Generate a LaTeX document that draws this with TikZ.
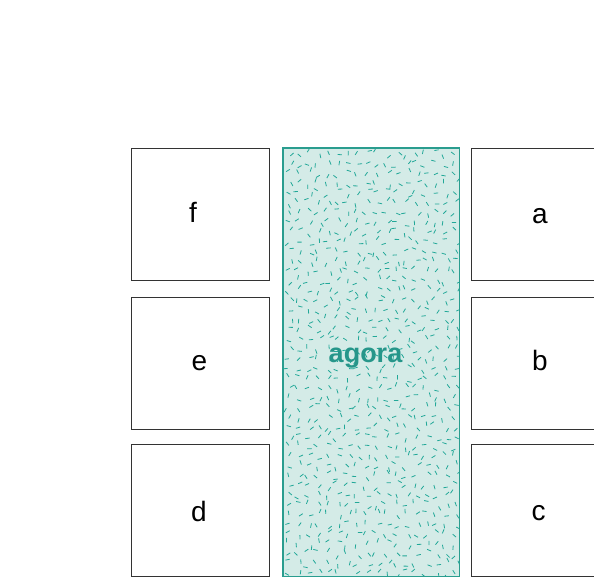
\documentclass[tikz,border=0pt]{standalone}
\usepackage{fontspec}
\setmainfont{Liberation Sans}
\definecolor{agorafill}{HTML}{D4EBE7}
\definecolor{agoraline}{HTML}{2A9D8F}
\definecolor{agoratext}{HTML}{26968A}
\definecolor{dashcol}{HTML}{22A898}
\definecolor{boxline}{HTML}{333333}
\begin{document}
\begin{tikzpicture}[x=1pt,y=-1pt,
  house/.style={draw=boxline,line width=1pt,fill=white,minimum width=138pt,minimum height=132pt,inner sep=0pt,anchor=north west},
  houselabel/.style={anchor=base,inner sep=0pt,font=\fontsize{28}{32}\selectfont,text=black},
  agorabox/.style={fill=agorafill,minimum width=176pt,minimum height=428pt,inner sep=0pt,anchor=north west},
  speck/.style={draw=dashcol,line width=0.8pt}]
\useasboundingbox (0,0) rectangle (594,585);
\begin{scope}
\clip (0,0) rectangle (594,585);
\node[house] (f) at (131,148) {};
\node[house] (e) at (131,297) {};
\node[house] (d) at (131,444) {};
\node[house] (a) at (471,148) {};
\node[house] (b) at (471,297) {};
\node[house] (c) at (471,444) {};
\node[houselabel] (flabel) at (193,223) {f};
\node[houselabel] (elabel) at (199.5,370) {e};
\node[houselabel] (dlabel) at (199,521) {d};
\node[houselabel] (alabel) at (540,224) {a};
\node[houselabel] (blabel) at (540,370.5) {b};
\node[houselabel] (clabel) at (538.7,520) {c};
\node[agorabox] (agora) at (283,148) {};
\begin{scope}
\clip (283,148) rectangle (459,576);
\pgfmathsetseed{4217}
\foreach \col in {0,...,17}{
  \foreach \row in {0,...,43}{
    \pgfmathsetmacro{\px}{284+\col*9.8+1+7.8*rnd}
    \pgfmathsetmacro{\py}{149+\row*9.75+1+7.75*rnd}
    \pgfmathsetmacro{\ang}{360*rnd}
    \draw[speck] (\px,\py) ++(\ang:2.2) -- ++(\ang+180:4.4);
  }
}
\end{scope}
\draw[agoraline,line width=1.6pt] (agora.north west) rectangle (agora.south east);
\node[anchor=base,inner sep=0pt,font=\fontsize{27}{31}\selectfont\bfseries,text=agoratext] (agoralabel) at (365.5,362) {agora};
\end{scope}
\end{tikzpicture}
\end{document}
